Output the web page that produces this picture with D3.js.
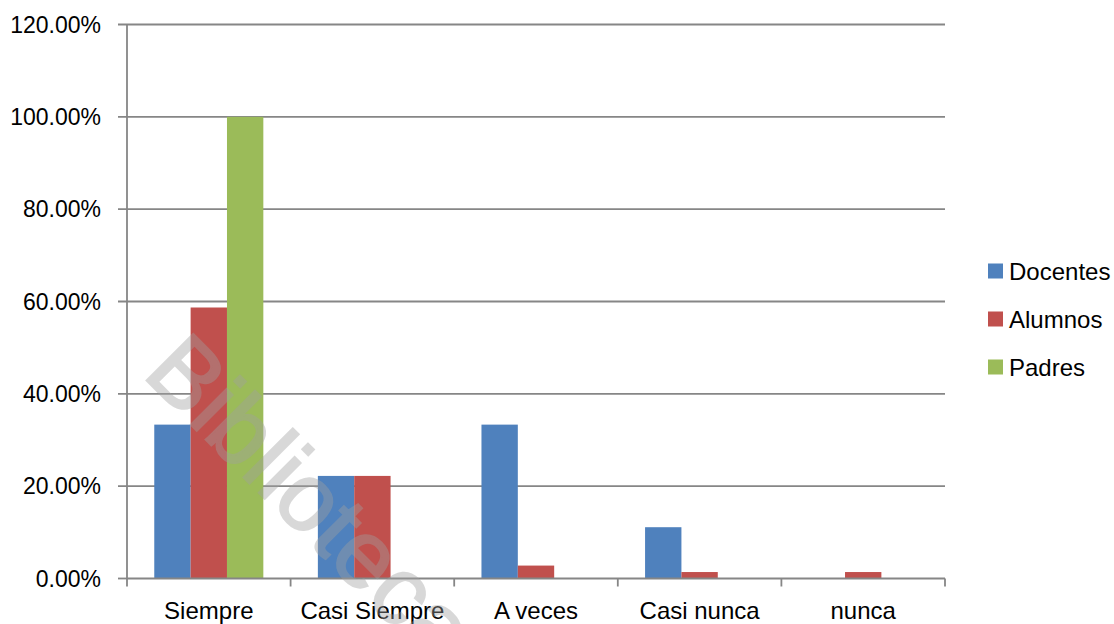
<!DOCTYPE html>
<html>
<head>
<meta charset="utf-8">
<script src="https://cdn.jsdelivr.net/npm/d3@7"></script>
<style>
  html, body { margin: 0; padding: 0; background: #fff; }
  svg { display: block; }
  text { font-family: "Liberation Sans", Arial, sans-serif; }
</style>
</head>
<body>
<svg id="chart" width="1114" height="624"></svg>
<script>
const categories = ["Siempre", "Casi Siempre", "A veces", "Casi nunca", "nunca"];
const seriesNames = ["Docentes", "Alumnos", "Padres"];
const docentes = [0.3333, 0.2222, 0.3333, 0.1111, 0];
const alumnos  = [0.587, 0.2222, 0.028, 0.014, 0.014];
const padres   = [1.0, 0, 0, 0, 0];
const yTicks = [0, 0.2, 0.4, 0.6, 0.8, 1.0, 1.2];
const colors = ["#4F81BD", "#C0504D", "#9BBB59"];

const seriesValues = [docentes, alumnos, padres];
const svg = d3.select("#chart");
const plotLeft = 127, plotRight = 945, plotTop = 24.5, plotBottom = 578.5;

const x = d3.scaleBand().domain(categories).range([plotLeft, plotRight]).paddingInner(0).paddingOuter(0);
const bw = x.bandwidth() / 4.5;
const x1 = d3.scaleBand().domain(seriesNames).range([0, bw * 3]);
const y = d3.scaleLinear().domain([0, 1.2]).range([plotBottom, plotTop]);
const gridColor = "#868686";

// gridlines
svg.append("g").selectAll("line").data(yTicks.filter(d => d > 0)).join("line")
  .attr("x1", plotLeft - 9).attr("x2", plotRight)
  .attr("y1", d => y(d)).attr("y2", d => y(d))
  .attr("stroke", gridColor).attr("stroke-width", 1.8);

// bars
const groups = svg.append("g").selectAll("g").data(categories).join("g")
  .attr("transform", c => `translate(${x(c) + bw * 0.75},0)`);
groups.selectAll("rect").data((c, i) => seriesNames.map((s, j) => ({s, v: seriesValues[j][i], j})))
  .join("rect")
  .attr("x", d => x1(d.s)).attr("width", x1.bandwidth())
  .attr("y", d => y(d.v)).attr("height", d => plotBottom - y(d.v))
  .attr("fill", d => colors[d.j]);

// y axis line and ticks
svg.append("line").attr("x1", plotLeft).attr("x2", plotLeft).attr("y1", plotTop).attr("y2", plotBottom)
  .attr("stroke", gridColor).attr("stroke-width", 1.8);
svg.append("line").attr("x1", plotLeft - 9).attr("x2", plotLeft).attr("y1", plotBottom).attr("y2", plotBottom)
  .attr("stroke", gridColor).attr("stroke-width", 1.8);
svg.append("g").selectAll("text").data(yTicks).join("text")
  .attr("x", 101).attr("y", d => y(d)).attr("dy", "0.36em")
  .attr("text-anchor", "end").attr("font-size", 23).attr("fill", "#000")
  .text(d => d3.format(".2%")(d));

// x axis
svg.append("line").attr("x1", plotLeft).attr("x2", plotRight).attr("y1", plotBottom).attr("y2", plotBottom)
  .attr("stroke", gridColor).attr("stroke-width", 1.8);
const bounds = categories.map(c => x(c)).concat([plotRight]);
svg.append("g").selectAll("line").data(bounds).join("line")
  .attr("x1", d => d).attr("x2", d => d).attr("y1", plotBottom).attr("y2", plotBottom + 8)
  .attr("stroke", gridColor).attr("stroke-width", 1.8);
svg.append("g").selectAll("text").data(categories).join("text")
  .attr("x", c => x(c) + x.bandwidth() / 2).attr("y", 619)
  .attr("text-anchor", "middle").attr("font-size", 24).attr("fill", "#000")
  .text(c => c);

// legend
const lg = svg.append("g").selectAll("g").data(seriesNames).join("g")
  .attr("transform", (d, i) => `translate(988,${271 + i * 48})`);
lg.append("rect").attr("x", 0).attr("y", -7.5).attr("width", 15).attr("height", 15)
  .attr("fill", (d, i) => colors[i]);
lg.append("text").attr("x", 21).attr("y", 0).attr("dy", "0.36em")
  .attr("font-size", 24).attr("fill", "#000").text(d => d);

// watermark
svg.append("text")
  .attr("transform", "translate(141,375) rotate(45)")
  .attr("font-size", 96).attr("fill", "#a0a0a0").attr("stroke", "#a0a0a0")
  .attr("stroke-width", 2).attr("opacity", 0.4)
  .text("Biblioteca Digital");
</script>
</body>
</html>
